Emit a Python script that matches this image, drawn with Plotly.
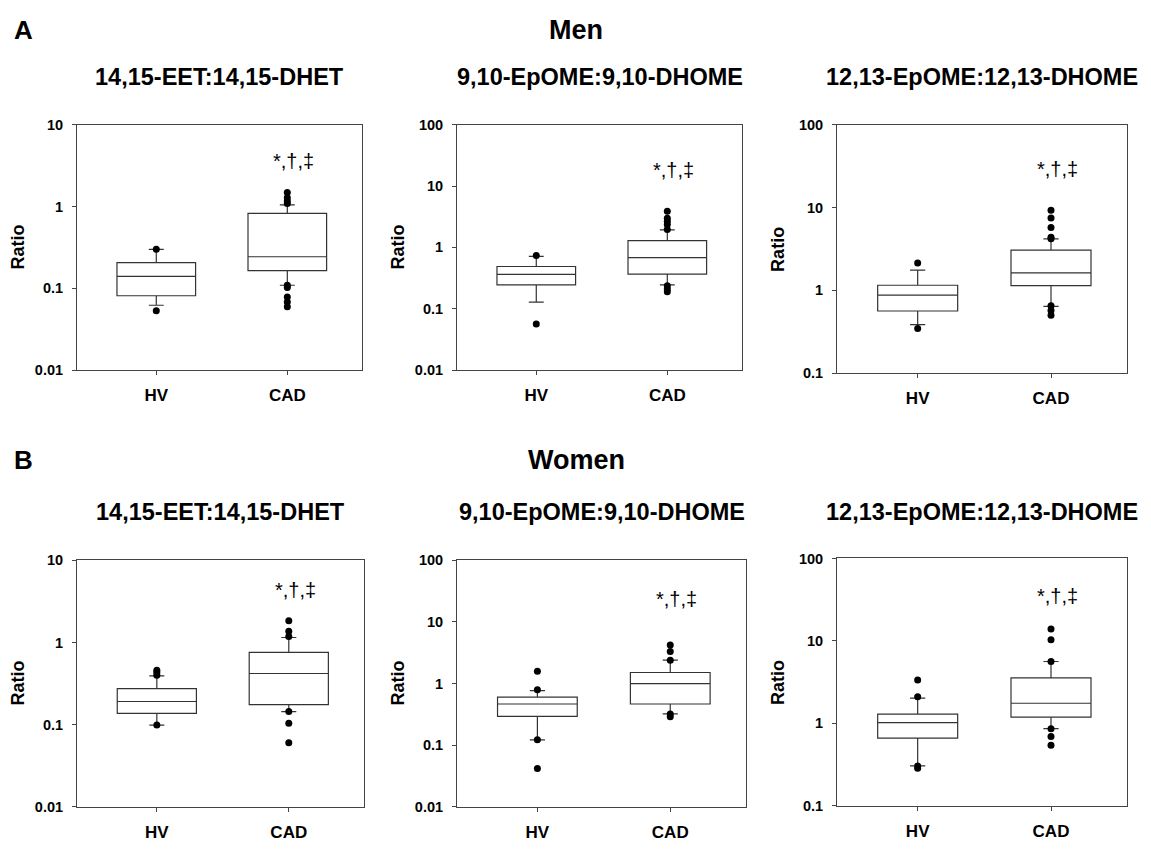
import math
import plotly.graph_objects as go

W, H = 1151, 850
FONT = "Arial, Liberation Sans, Helvetica, sans-serif"

# ---------------- data ----------------
groups = ["HV", "CAD"]
panel_titles = ["14,15-EET:14,15-DHET", "9,10-EpOME:9,10-DHOME", "12,13-EpOME:12,13-DHOME",
                "14,15-EET:14,15-DHET", "9,10-EpOME:9,10-DHOME", "12,13-EpOME:12,13-DHOME"]
row_titles = ["Men", "Women"]
row_letters = ["A", "B"]
sig_label = "*,†,‡"

# stats per group: [lower whisker, Q1, median, Q3, upper whisker]
men_eet_hv = [0.062, 0.081, 0.14, 0.206, 0.30]
men_eet_cad = [0.109, 0.164, 0.243, 0.826, 1.05]
men_eet_hv_out = [0.30, 0.053]
men_eet_cad_out = [1.48, 1.28, 1.17, 1.09, 0.109, 0.102, 0.078, 0.068, 0.0596]

men_910_hv = [0.128, 0.245, 0.363, 0.488, 0.714]
men_910_cad = [0.245, 0.368, 0.68, 1.29, 1.93]
men_910_hv_out = [0.74, 0.0564]
men_910_cad_out = [3.88, 3.0, 2.68, 2.37, 1.95, 0.238, 0.209, 0.19]

men_1213_hv = [0.384, 0.561, 0.875, 1.15, 1.75]
men_1213_cad = [0.637, 1.14, 1.62, 3.06, 4.17]
men_1213_hv_out = [2.13, 0.344]
men_1213_cad_out = [9.27, 7.46, 5.73, 4.37, 4.2, 0.65, 0.571, 0.499]

women_eet_hv = [0.0987, 0.137, 0.191, 0.274, 0.393]
women_eet_cad = [0.144, 0.175, 0.419, 0.76, 1.15]
women_eet_hv_out = [0.459, 0.43, 0.40, 0.099]
women_eet_cad_out = [1.84, 1.37, 1.18, 0.144, 0.104, 0.060]

women_910_hv = [0.122, 0.292, 0.465, 0.60, 0.768]
women_910_cad = [0.321, 0.465, 1.0, 1.51, 2.4]
women_910_hv_out = [1.58, 0.79, 0.122, 0.0415]
women_910_cad_out = [4.23, 3.3, 2.4, 0.32, 0.288]

women_1213_hv = [0.304, 0.66, 1.02, 1.29, 2.02]
women_1213_cad = [0.859, 1.19, 1.75, 3.56, 5.62]
women_1213_hv_out = [3.34, 2.1, 0.304, 0.285]
women_1213_cad_out = [13.97, 10.3, 5.6, 0.86, 0.69, 0.54]

# y-axis decades (log10 of min / max) and tick labels per panel
y_decades = [(-2, 1), (-2, 2), (-1, 2), (-2, 1), (-2, 2), (-1, 2)]
tick_labels = {-2: "0.01", -1: "0.1", 0: "1", 1: "10", 2: "100"}
# significance label height (value on the log axis)
sig_y = [3.6, 18.4, 29.6, 4.4, 23.5, 35.3]

panels = [
    (men_eet_hv, men_eet_cad, men_eet_hv_out, men_eet_cad_out),
    (men_910_hv, men_910_cad, men_910_hv_out, men_910_cad_out),
    (men_1213_hv, men_1213_cad, men_1213_hv_out, men_1213_cad_out),
    (women_eet_hv, women_eet_cad, women_eet_hv_out, women_eet_cad_out),
    (women_910_hv, women_910_cad, women_910_hv_out, women_910_cad_out),
    (women_1213_hv, women_1213_cad, women_1213_hv_out, women_1213_cad_out),
]

# ---------------- layout geometry (pixels) ----------------
boxes_px = [  # x0, x1, ytop, ybottom
    (77, 362, 119, 369),
    (457, 742, 119, 369),
    (837, 1127, 119, 372),
    (77, 364, 563, 814),
    (457, 746, 563, 814),
    (837, 1127, 561, 813),
]

fig = go.Figure()
LINE = "#333333"
AX = "#444444"
annotations = []

for i, (hv, cad, hv_out, cad_out) in enumerate(panels):
    n = i + 1
    xa = "x" if n == 1 else f"x{n}"
    ya = "y" if n == 1 else f"y{n}"
    for gi, stats in enumerate([hv, cad]):
        fig.add_trace(go.Box(
            x=[gi + 1], lowerfence=[stats[0]], q1=[stats[1]], median=[stats[2]],
            q3=[stats[3]], upperfence=[stats[4]],
            width=0.6, whiskerwidth=0.19, boxpoints=False,
            fillcolor="white", line=dict(color=LINE, width=1.2),
            xaxis=xa, yaxis=ya, hoverinfo="skip", showlegend=False))
    for gi, outs in enumerate([hv_out, cad_out]):
        fig.add_trace(go.Scatter(
            x=[gi + 1] * len(outs), y=outs, mode="markers",
            marker=dict(color="black", size=7),
            xaxis=xa, yaxis=ya, hoverinfo="skip", showlegend=False))

    x0, x1, yt, yb = boxes_px[i]
    lo, hi = y_decades[i]
    sfx = "" if n == 1 else str(n)
    fig.layout["xaxis" + sfx] = dict(
        domain=[x0 / W, x1 / W], anchor=ya, range=[0.395, 2.57],
        tickvals=[1, 2], ticktext=groups, ticks="outside", ticklen=4,
        tickcolor=AX, tickwidth=1, ticklabelstandoff=6,
        tickfont=dict(family=FONT, size=17, color="black", weight="bold"),
        showline=True, linecolor=AX, linewidth=1, mirror=True,
        showgrid=False, zeroline=False, fixedrange=True)
    fig.layout["yaxis" + sfx] = dict(
        domain=[1 - yb / H, 1 - yt / H], anchor=xa, type="log", range=[lo, hi],
        tickvals=[10 ** k for k in range(lo, hi + 1)],
        ticktext=[tick_labels[k] for k in range(lo, hi + 1)],
        ticks="outside", ticklen=4, tickcolor=AX, tickwidth=1, ticklabelstandoff=6,
        tickfont=dict(family=FONT, size=14.5, color="black", weight="bold"),
        showline=True, linecolor=AX, linewidth=1, mirror=True,
        showgrid=False, zeroline=False, fixedrange=True)

    # significance marker
    annotations.append(dict(
        x=2.05, y=math.log10(sig_y[i]), xref=xa, yref=ya, text=sig_label,
        showarrow=False, xanchor="center", yanchor="middle",
        font=dict(family=FONT, size=20, color="black")))
    # panel title
    annotations.append(dict(
        x=(x0 + x1) / 2 / W, y=1 - (70 if i < 3 else 514) / H, xref="paper", yref="paper",
        text=panel_titles[i], showarrow=False, xanchor="center", yanchor="middle",
        font=dict(family=FONT, size=23.5, color="black", weight="bold")))
    # y axis title
    annotations.append(dict(
        x=(x0 - 59) / W, y=1 - (yt + yb) / 2 / H, xref="paper", yref="paper",
        text="Ratio", textangle=-90, showarrow=False, xanchor="center", yanchor="middle",
        font=dict(family=FONT, size=18, color="black", weight="bold")))

for r in range(2):
    annotations.append(dict(
        x=576 / W, y=1 - (22 if r == 0 else 461) / H, xref="paper", yref="paper",
        text=row_titles[r], showarrow=False, xanchor="center", yanchor="middle",
        font=dict(family=FONT, size=27, color="black", weight="bold")))
    annotations.append(dict(
        x=23 / W, y=1 - (22 if r == 0 else 461) / H, xref="paper", yref="paper",
        text=row_letters[r], showarrow=False, xanchor="center", yanchor="middle",
        font=dict(family=FONT, size=26, color="black", weight="bold")))

fig.update_layout(
    width=W, height=H, margin=dict(l=0, r=0, t=0, b=0),
    paper_bgcolor="white", plot_bgcolor="white", showlegend=False,
    annotations=annotations, font=dict(family=FONT, color="black"))

fig.write_html(
    "out.html", config={"displayModeBar": False},
    post_script="document.body.style.margin='0';document.body.style.overflow='hidden';")
